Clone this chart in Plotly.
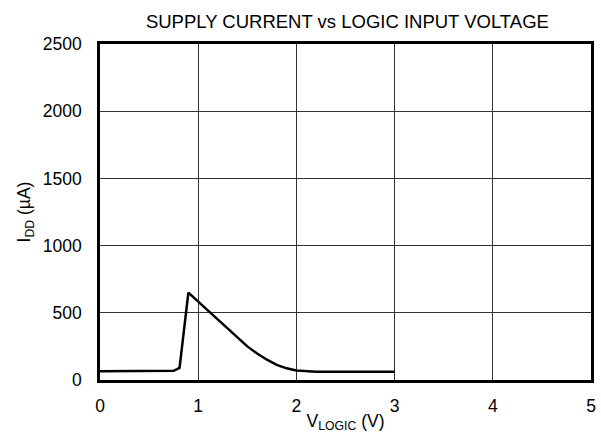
import plotly.graph_objects as go

# Supply current vs logic input voltage
v_logic = [0.0, 0.65, 0.75, 0.81, 0.90, 1.0, 1.1, 1.2, 1.3, 1.35, 1.4, 1.45, 1.5, 1.6, 1.7, 1.8, 1.9, 2.0, 2.1, 2.2, 3.0]
i_dd = [65, 65, 68, 90, 650, 583, 515, 447, 380, 345, 312, 280, 250, 197, 151, 113, 87, 71, 64, 62, 62]

x_ticks = [0, 1, 2, 3, 4, 5]
y_ticks = [0, 500, 1000, 1500, 2000, 2500]

font_family = "Liberation Sans, Arial, sans-serif"

fig = go.Figure()
fig.add_trace(go.Scatter(
    x=v_logic, y=i_dd, mode="lines",
    line=dict(color="black", width=2.5),
    showlegend=False,
))

fig.update_layout(
    width=601, height=444,
    margin=dict(l=100, r=5, t=44, b=64),
    paper_bgcolor="white", plot_bgcolor="white",
    font=dict(family=font_family, color="black", size=17.5),
    title=dict(
        text="SUPPLY CURRENT vs LOGIC INPUT VOLTAGE",
        x=0.578, xanchor="center", y=0.952, yanchor="middle",
        font=dict(size=18.5, family=font_family, color="black"),
    ),
)

fig.update_xaxes(
    range=[0, 5], tickvals=x_ticks, ticktext=[str(t) for t in x_ticks],
    showgrid=True, gridcolor="#333", gridwidth=1,
    showline=True, linecolor="black", linewidth=2.5, mirror=True,
    ticks="outside", ticklen=8, tickcolor="rgba(0,0,0,0)",
    tickfont=dict(size=17.5),
    zeroline=False,
    title=dict(text="V<sub>LOGIC</sub> (V)", font=dict(size=17.5), standoff=0),
)
fig.update_yaxes(
    range=[0, 2500], tickvals=y_ticks, ticktext=[str(t) for t in y_ticks],
    showgrid=True, gridcolor="#333", gridwidth=1,
    showline=True, linecolor="black", linewidth=2.5, mirror=True,
    ticks="outside", ticklen=12, tickcolor="rgba(0,0,0,0)",
    tickfont=dict(size=17.5),
    zeroline=False,
    title=dict(text="I<sub>DD</sub> (µA)", font=dict(size=17.5), standoff=8),
)

fig.write_html("out.html")
